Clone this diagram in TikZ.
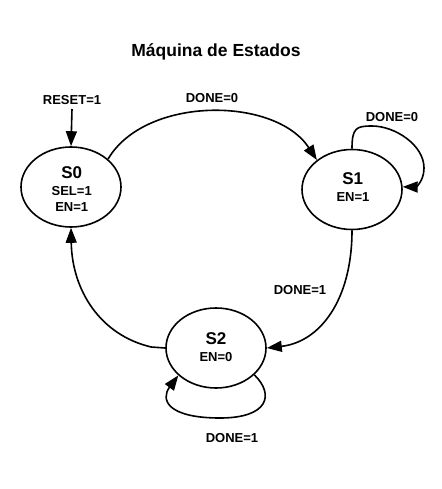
\documentclass[tikz,border=0pt]{standalone}
\usepackage{fontspec}
\setmainfont{Liberation Sans}
\usetikzlibrary{arrows.meta,shapes.geometric}
\tikzset{
  state/.style={ellipse, draw, line width=1.6pt, minimum width=100pt, minimum height=80pt, inner sep=0pt},
  bigtxt/.style={anchor=base, inner sep=0pt, font=\fontsize{17}{20}\selectfont\bfseries},
  smalltxt/.style={anchor=base, inner sep=0pt, font=\fontsize{13}{15}\selectfont\bfseries},
  titletxt/.style={anchor=base, inner sep=0pt, font=\fontsize{17.5}{21}\selectfont\bfseries},
  conn/.style={line width=1.6pt, -{Triangle[length=15pt,width=11pt]}},
  plain/.style={line width=1.6pt}
}
\begin{document}
\begin{tikzpicture}[x=1pt,y=-1pt]
\useasboundingbox (0,0) rectangle (441,489);
\fill[white] (0,0) rectangle (441,489);
% title
\node[titletxt] (title) at (216,56.7) {Máquina de Estados};
% states
\node[state] (s0) at (71,187) {};
\node[state] (s1) at (352,189.5) {};
\node[state] (s2) at (216,348) {};
\node[bigtxt] (s0name) at (71.7,178.3) {S0};
\node[smalltxt] (s0sel) at (71.7,195.7) {SEL=1};
\node[smalltxt] (s0en) at (71.7,211.7) {EN=1};
\node[bigtxt] (s1name) at (352.7,184) {S1};
\node[smalltxt] (s1en) at (353,201.7) {EN=1};
\node[bigtxt] (s2name) at (216,344) {S2};
\node[smalltxt] (s2en) at (216,361.7) {EN=0};
% labels
\node[smalltxt] (reset) at (72,105) {RESET=1};
\node[smalltxt] (l01) at (212,103) {DONE=0};
\node[smalltxt] (l11) at (392,122) {DONE=0};
\node[smalltxt] (l12) at (300,294) {DONE=1};
\node[smalltxt] (l22) at (232,442) {DONE=1};
% connectors
\draw[conn] (72,109) -- (s0.north);
\draw[conn] (s0.37) .. controls (145,96) and (275,96) .. (s1.140);
\draw[conn] (s1.north) .. controls (352,128) and (356,126) .. (372,126)
   .. controls (395,126) and (424,145) .. (424,168)
   .. controls (424,182) and (415,187) .. (s1.3);
\draw[conn] (s1.south) .. controls (352,300) and (320,342) .. (s2.east);
\draw[conn] (s2.west) -- ++(-14,-1) .. controls (100,335) and (72,290) .. (s0.south);
\draw[conn] (s2.-35) .. controls (275,395) and (268,418) .. (220,418)
   .. controls (168,418) and (160,400) .. (s2.216);
\end{tikzpicture}
\end{document}
